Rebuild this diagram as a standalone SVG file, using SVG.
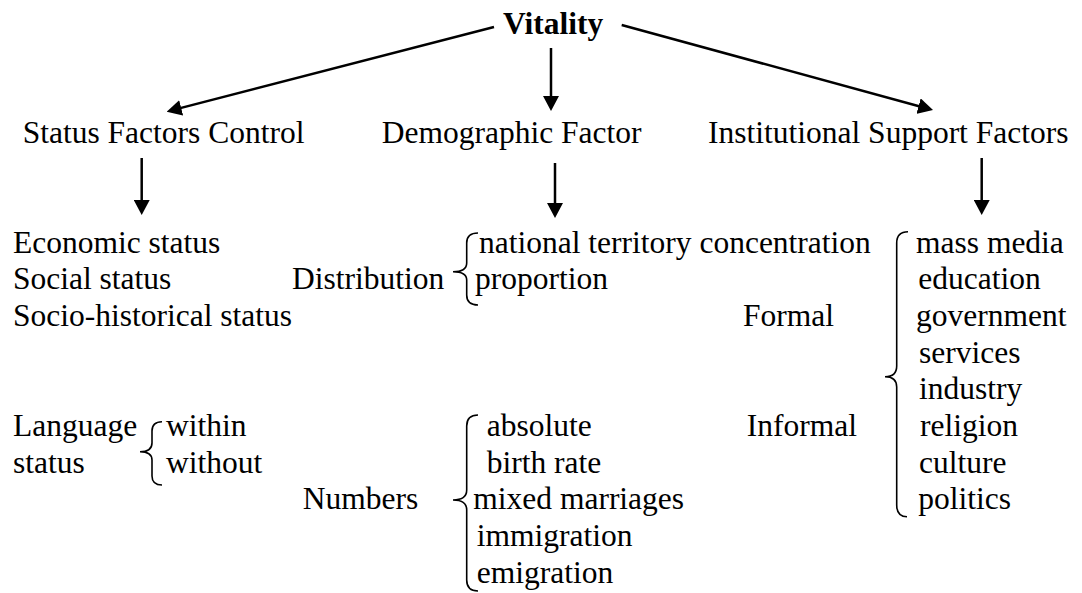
<svg xmlns="http://www.w3.org/2000/svg" width="1082" height="593" viewBox="0 0 1082 593" font-family="'Liberation Serif', Tinos, 'Times New Roman', 'DejaVu Serif', serif">
<style>
text{font-family:"Liberation Serif",Tinos,"Times New Roman","DejaVu Serif",serif;font-size:31.5px;fill:#000}
.b{font-weight:bold}
.c{stroke:#000;stroke-width:2.5;fill:none}
.br{stroke:#000;stroke-width:1.6;fill:none}
</style>
<defs>
<marker id="ah" viewBox="0 0 15 16" refX="10" refY="8" markerWidth="15" markerHeight="16" markerUnits="userSpaceOnUse" orient="auto">
<path d="M0,0 L15,8 L0,16 z" fill="#000"/>
</marker>
</defs>
<rect width="1082" height="593" fill="#fff"/>
<g id="connectors">
<line class="c" x1="494" y1="27" x2="171.5" y2="110.4" marker-end="url(#ah)"/>
<line class="c" x1="551" y1="48" x2="551" y2="106" marker-end="url(#ah)"/>
<line class="c" x1="621.7" y1="25" x2="928.2" y2="108.7" marker-end="url(#ah)"/>
<line class="c" x1="141.7" y1="158" x2="141.7" y2="210" marker-end="url(#ah)"/>
<line class="c" x1="555" y1="163" x2="555" y2="213" marker-end="url(#ah)"/>
<line class="c" x1="981.7" y1="158" x2="981.7" y2="210" marker-end="url(#ah)"/>
</g>
<g id="vitality"><text class="b" x="503" y="34">Vitality</text></g>
<g id="status-factors"><text x="22.7" y="143">Status Factors Control</text></g>
<g id="demographic-factor"><text x="381.7" y="143">Demographic Factor</text></g>
<g id="institutional-factors"><text x="708" y="143">Institutional Support Factors</text></g>
<g id="status-list">
<text x="13" y="252.5">Economic status</text>
<text x="13" y="289.2">Social status</text>
<text x="13" y="325.9">Socio-historical status</text>
<text x="13" y="436">Language</text>
<text x="13" y="472.7">status</text>
<path class="br" d="M162,421.7 Q152,421.7 152,431 L152,443 Q152,451.7 140,451.7 Q152,451.7 152,460 L152,476 Q152,485 162,485"/>
<text x="166" y="436">within</text>
<text x="166" y="472.7">without</text>
</g>
<g id="distribution">
<text x="292" y="289.2">Distribution</text>
<path class="br" d="M478,233 Q466.7,233 466.7,243 L466.7,263 Q466.7,271.7 453,271.7 Q466.7,271.7 466.7,280 L466.7,295 Q466.7,305 478,305"/>
<text x="479" y="252.5">national territory concentration</text>
<text x="475" y="289.2">proportion</text>
</g>
<g id="numbers">
<text x="302.7" y="509.4">Numbers</text>
<path class="br" d="M478,415 Q466.7,415 466.7,426 L466.7,490 Q466.7,500 453,500 Q466.7,500 466.7,510 L466.7,580 Q466.7,591 478,591"/>
<text x="486.7" y="436">absolute</text>
<text x="486.7" y="472.7">birth rate</text>
<text x="473.3" y="509.4">mixed marriages</text>
<text x="476.7" y="546.1">immigration</text>
<text x="476.7" y="582.8">emigration</text>
</g>
<g id="institutional-list">
<text x="743" y="325.9">Formal</text>
<text x="746.7" y="436">Informal</text>
<path class="br" d="M908,231.7 Q896.7,231.7 896.7,243 L896.7,366 Q896.7,376.7 885,376.7 Q896.7,376.7 896.7,387 L896.7,505 Q896.7,516.7 907,516.7"/>
<text x="916" y="252.5">mass media</text>
<text x="918.3" y="289.2">education</text>
<text x="916" y="325.9">government</text>
<text x="919" y="362.6">services</text>
<text x="919" y="399.3">industry</text>
<text x="920" y="436">religion</text>
<text x="919" y="472.7">culture</text>
<text x="918.3" y="509.4">politics</text>
</g>
</svg>
